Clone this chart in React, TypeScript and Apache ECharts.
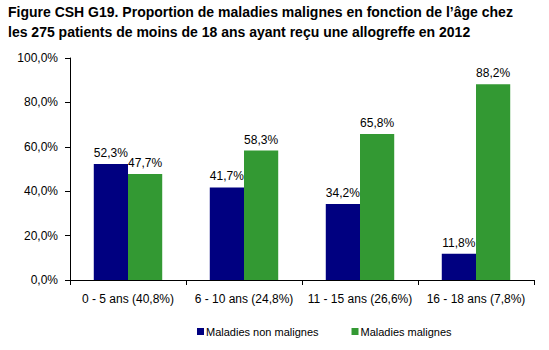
import React, { useEffect, useRef } from "react";
import * as echarts from "echarts";

const categories = ["0 - 5 ans (40,8%)", "6 - 10 ans (24,8%)", "11 - 15 ans (26,6%)", "16 - 18 ans (7,8%)"];
const nonMalignes = [52.3, 41.7, 34.2, 11.8];
const malignes = [47.7, 58.3, 65.8, 88.2];
const seriesNames = ["Maladies non malignes", "Maladies malignes"];
const titleText = "Figure CSH G19. Proportion de maladies malignes en fonction de l\u2019âge chez\nles 275 patients de moins de 18 ans ayant reçu une allogreffe en 2012";

const FONT = "'Liberation Sans', Arial, sans-serif";
const fmt = (v: number) => v.toFixed(1).replace(".", ",") + "%";

export default function App() {
  const ref = useRef<HTMLDivElement>(null);
  useEffect(() => {
    document.body.style.margin = "0";
    const chart = echarts.init(ref.current!, null, { renderer: "svg" });
    chart.setOption({
      animation: false,
      backgroundColor: "#ffffff",
      textStyle: { fontFamily: FONT },
      title: {
        text: titleText,
        left: 8,
        top: 2,
        padding: 0,
        textStyle: { fontFamily: FONT, fontSize: 14, fontWeight: "bold", color: "#000", lineHeight: 20 },
      },
      legend: {
        top: 326,
        left: 197,
        padding: 0,
        itemWidth: 7,
        itemHeight: 7,
        itemGap: 33,
        icon: "rect",
        textStyle: { fontFamily: FONT, fontSize: 11, color: "#000", padding: [0, 0, 0, -3] },
        data: seriesNames,
      },
      grid: { left: 70, right: 15, top: 58, bottom: 70, containLabel: false },
      xAxis: {
        type: "category",
        data: categories,
        axisLine: { lineStyle: { color: "#000" } },
        axisTick: { show: true, alignWithLabel: false, length: 5, lineStyle: { color: "#000" } },
        axisLabel: { fontFamily: FONT, fontSize: 12, color: "#000", margin: 13, interval: 0 },
      },
      yAxis: {
        type: "value",
        min: 0,
        max: 100,
        interval: 20,
        axisLine: { show: true, lineStyle: { color: "#000" } },
        axisTick: { show: true, length: 5, lineStyle: { color: "#000" } },
        splitLine: { show: false },
        axisLabel: { fontFamily: FONT, fontSize: 12, color: "#000", margin: 12, formatter: (v: number) => fmt(v) },
      },
      series: [
        {
          name: seriesNames[0],
          type: "bar",
          data: nonMalignes,
          itemStyle: { color: "#000080" },
          barGap: "0%",
          barCategoryGap: "41%",
          label: { show: true, position: "top", distance: 5, fontFamily: FONT, fontSize: 12, color: "#000", formatter: (p: any) => fmt(p.value) },
        },
        {
          name: seriesNames[1],
          type: "bar",
          data: malignes,
          itemStyle: { color: "#339933" },
          barGap: "0%",
          barCategoryGap: "41%",
          label: { show: true, position: "top", distance: 5, fontFamily: FONT, fontSize: 12, color: "#000", formatter: (p: any) => fmt(p.value) },
        },
      ],
    });
    return () => chart.dispose();
  }, []);
  return <div ref={ref} style={{ width: 549, height: 350 }} />;
}
